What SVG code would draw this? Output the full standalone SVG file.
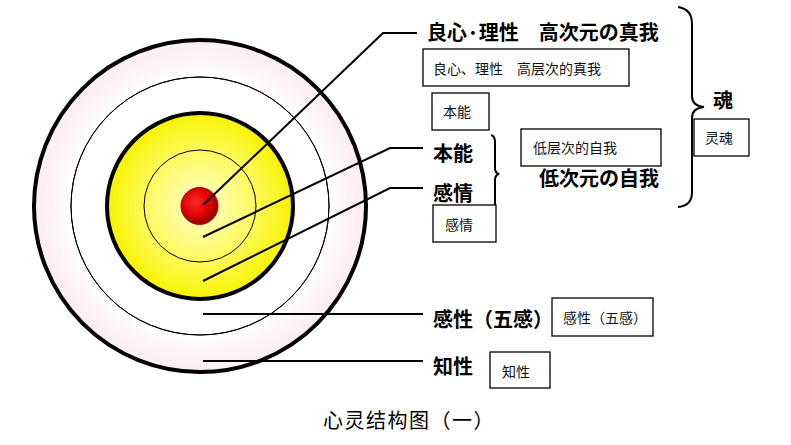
<svg xmlns="http://www.w3.org/2000/svg" width="791" height="445" viewBox="0 0 791 445">
<defs>
<radialGradient id="gPink" cx="200" cy="206" r="166" gradientUnits="userSpaceOnUse">
<stop offset="0.78" stop-color="#ffffff"/>
<stop offset="0.9" stop-color="#fdf2f5"/>
<stop offset="1" stop-color="#fcedf2"/>
</radialGradient>
<radialGradient id="gBlue" cx="200" cy="206" r="129" gradientUnits="userSpaceOnUse">
<stop offset="0.72" stop-color="#ffffff"/>
<stop offset="1" stop-color="#eef2f8"/>
</radialGradient>
<radialGradient id="gYellow" cx="200" cy="206" r="93" gradientUnits="userSpaceOnUse">
<stop offset="0" stop-color="#ffffd0"/>
<stop offset="0.5" stop-color="#fffb70"/>
<stop offset="1" stop-color="#f8f200"/>
</radialGradient>
<radialGradient id="gRed" cx="196" cy="202" r="20" gradientUnits="userSpaceOnUse">
<stop offset="0" stop-color="#ff2a2a"/>
<stop offset="0.7" stop-color="#e00000"/>
<stop offset="1" stop-color="#a00000"/>
</radialGradient>
<style>
.thick{fill:none;stroke:#000;stroke-width:4}
.thin{fill:none;stroke:#000;stroke-width:1}
.ln{fill:none;stroke:#000;stroke-width:2}
.br{fill:none;stroke:#000;stroke-width:2}
.box{fill:#fff;stroke:#000;stroke-width:1.3}
.big{font-family:"Noto Sans CJK JP","Noto Sans CJK SC",sans-serif;font-weight:bold;font-size:20px;fill:#000}
.sm{font-family:"Noto Sans CJK SC",sans-serif;font-size:14px;fill:#111}
.cap{font-family:"Noto Sans CJK SC",serif;font-size:20px;letter-spacing:1.5px;fill:#000}
</style>
</defs>
<g id="rings">
<circle cx="200" cy="206" r="166" fill="url(#gPink)"/>
<circle cx="200" cy="206" r="129" fill="url(#gBlue)" class="thin"/>
<circle cx="200" cy="206" r="129" class="thin"/>
<circle cx="200" cy="206" r="93" fill="url(#gYellow)"/>
<circle cx="200" cy="206" r="93" class="thick"/>
<circle cx="200" cy="206" r="56" class="thin"/>
<circle cx="199.5" cy="206" r="18.5" fill="url(#gRed)" stroke="#900" stroke-width="1"/>
<circle cx="200" cy="206" r="166" class="thick"/>
</g>
<g id="connectors">
<polyline class="ln" points="203,205 383,33 417,33"/>
<polyline class="ln" points="203,237 390,148 423,148"/>
<polyline class="ln" points="203,281 390,188 423,188"/>
<polyline class="ln" points="203,314 423,314"/>
<polyline class="ln" points="203,361 423,361"/>
<path class="br" d="M491,135 Q495,136 495,142 L495,168 Q495,173 499,174 Q495,175 495,180 L495,205"/>
<path class="br" d="M678,7 Q692,9 692,24 L692,96 Q692,106 704,107 Q692,108 692,118 L692,192 Q692,206 678,207"/>
</g>
<g id="n-conscience">
<text class="big" x="427" y="40" font-size="21">良心·理性　高次元の真我</text>
<rect class="box" x="423" y="49" width="206" height="37"/>
<text class="sm" x="433" y="74">良心、理性　高层次的真我</text>
</g>
<g id="n-instinct">
<rect class="box" x="432" y="93" width="57" height="37"/>
<text class="sm" x="443" y="117">本能</text>
<text class="big" x="433" y="161">本能</text>
</g>
<g id="n-emotion">
<text class="big" x="433" y="201">感情</text>
<rect class="box" x="433" y="205" width="63" height="37"/>
<text class="sm" x="445" y="230">感情</text>
</g>
<g id="n-lowself">
<rect class="box" x="521" y="129" width="140" height="37"/>
<text class="sm" x="533" y="153">低层次的自我</text>
<text class="big" x="539" y="186">低次元の自我</text>
</g>
<g id="n-soul">
<text class="big" x="713" y="108">魂</text>
<rect class="box" x="694" y="119" width="55" height="37"/>
<text class="sm" x="705" y="143">灵魂</text>
</g>
<g id="n-sense">
<text class="big" x="433" y="327">感性（五感）</text>
<rect class="box" x="552" y="298" width="101" height="38"/>
<text class="sm" x="563" y="323">感性（五感）</text>
</g>
<g id="n-intellect">
<text class="big" x="433" y="374">知性</text>
<rect class="box" x="490" y="352" width="60" height="36"/>
<text class="sm" x="502" y="377">知性</text>
</g>
<text class="cap" x="323" y="428">心灵结构图（一）</text>
</svg>
